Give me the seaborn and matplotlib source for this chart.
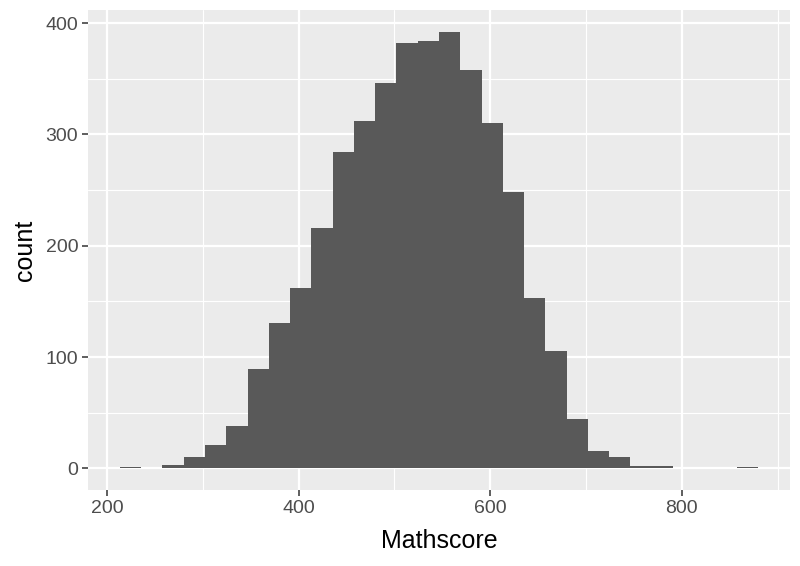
import numpy as np
import pandas as pd
import matplotlib
matplotlib.use('Agg')
import matplotlib.pyplot as plt
import seaborn as sns
from matplotlib.ticker import MultipleLocator

# Histogram of Mathscore, 30 bins (ggplot default)
score_min = 213.6
score_max = 879.6
counts = [1, 0, 3, 10, 21, 38, 89, 131, 162, 216,
          284, 312, 346, 382, 384, 392, 358, 310, 248, 153,
          105, 44, 16, 10, 2, 2, 0, 0, 0, 1]

n_bins = len(counts)
edges = np.linspace(score_min, score_max, n_bins + 1)
centers = (edges[:-1] + edges[1:]) / 2
df = pd.DataFrame({'Mathscore': centers, 'count': counts})

sns.set_style('darkgrid', {'axes.facecolor': '#EBEBEB', 'grid.color': 'white'})
plt.rcParams['font.family'] = ['Liberation Sans', 'DejaVu Sans']

fig = plt.figure(figsize=(8, 5.66), dpi=100)
ax = fig.add_axes([0.11, 0.134, 0.8775, 0.848])

sns.histplot(data=df, x='Mathscore', weights='count', bins=n_bins,
             binrange=(score_min, score_max),
             color='#595959', alpha=1, edgecolor='none', linewidth=0, ax=ax)

ax.set_xlim(180.3, 912.9)
ax.set_ylim(-19.6, 411.6)
ax.xaxis.set_major_locator(MultipleLocator(200))
ax.xaxis.set_minor_locator(MultipleLocator(100))
ax.yaxis.set_major_locator(MultipleLocator(100))
ax.yaxis.set_minor_locator(MultipleLocator(50))
ax.grid(which='major', color='white', linewidth=1.6)
ax.grid(which='minor', color='white', linewidth=0.8)
ax.set_axisbelow(True)
for s in ax.spines.values():
    s.set_visible(False)

ax.tick_params(axis='both', which='major', length=4, width=1.1, color='#333333',
               labelcolor='#4D4D4D', labelsize=14, pad=3, bottom=True, left=True)
ax.tick_params(axis='both', which='minor', length=0)

ax.set_xlabel('Mathscore', fontsize=18, color='black', labelpad=9)
ax.set_ylabel('count', fontsize=18, color='black', labelpad=6)

fig.savefig('out.png', dpi=100)
